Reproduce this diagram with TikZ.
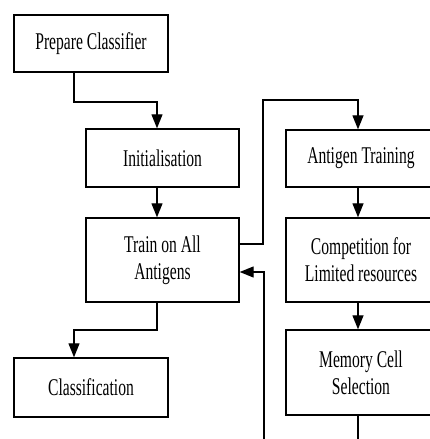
\documentclass[tikz,border=0pt]{standalone}
\usepackage{fontspec}
\newfontfamily\condfont[FakeStretch=0.65]{Liberation Serif}
\usetikzlibrary{arrows.meta}
\begin{document}
\begin{tikzpicture}[x=1pt,y=-1pt,
  box/.style={draw=black,line width=1.4pt,fill=white,inner sep=0pt,align=center,
    font=\condfont\fontsize{24}{27}\selectfont},
  conn/.style={draw=black,line width=1.3pt},
  arr/.style={conn,-{Triangle[width=11pt,length=14pt]}}]
\useasboundingbox (0,0) rectangle (430,439);
\clip (0,0) rectangle (430,439);
\fill[white] (0,0) rectangle (430,439);
% boxes
\node[box,minimum width=154pt,minimum height=57pt] (prep) at (91,43.5) {Prepare Classifier};
\node[box,minimum width=153pt,minimum height=58pt] (init) at (162.5,158) {Initialisation};
\node[box,minimum width=153pt,minimum height=84pt] (train) at (162.5,260) {Train on All\\Antigens};
\node[box,minimum width=154pt,minimum height=59pt] (class) at (91,387.5) {Classification};
\node[box,minimum width=150pt,minimum height=57pt] (antr) at (361,158.5) {Antigen Training};
\node[box,minimum width=150pt,minimum height=84pt] (comp) at (361,260) {Competition for\\Limited resources};
\node[box,minimum width=150pt,minimum height=85pt] (mem) at (361,372.5) {Memory Cell\\Selection};
% helper coordinates
\coordinate (xl) at (74,0);
\coordinate (xc) at (157,0);
\coordinate (xr) at (358,0);
\coordinate (xa) at (263,0);
\coordinate (xb) at (264,0);
\coordinate (y102) at (0,102);
\coordinate (y100) at (0,100);
\coordinate (y330) at (0,330);
\coordinate (y244) at (0,244);
\coordinate (y272) at (0,272);
\coordinate (ybot) at (0,450);
% connectors
\draw[arr] (prep.south -| xl) -- (xl |- y102) -| (init.north -| xc);
\draw[arr] (init.south -| xc) -- (train.north -| xc);
\draw[arr] (train.south -| xc) -- (xc |- y330) -| (class.north -| xl);
\draw[arr] (train.east |- y244) -- (xa |- y244) -- (xa |- y100) -| (antr.north -| xr);
\draw[arr] (antr.south -| xr) -- (comp.north -| xr);
\draw[arr] (comp.south -| xr) -- (mem.north -| xr);
\draw[conn] (mem.south -| xr) -- (xr |- ybot);
\draw[arr] (xb |- ybot) -- (xb |- y272) -- (train.east |- y272);
\end{tikzpicture}
\end{document}
